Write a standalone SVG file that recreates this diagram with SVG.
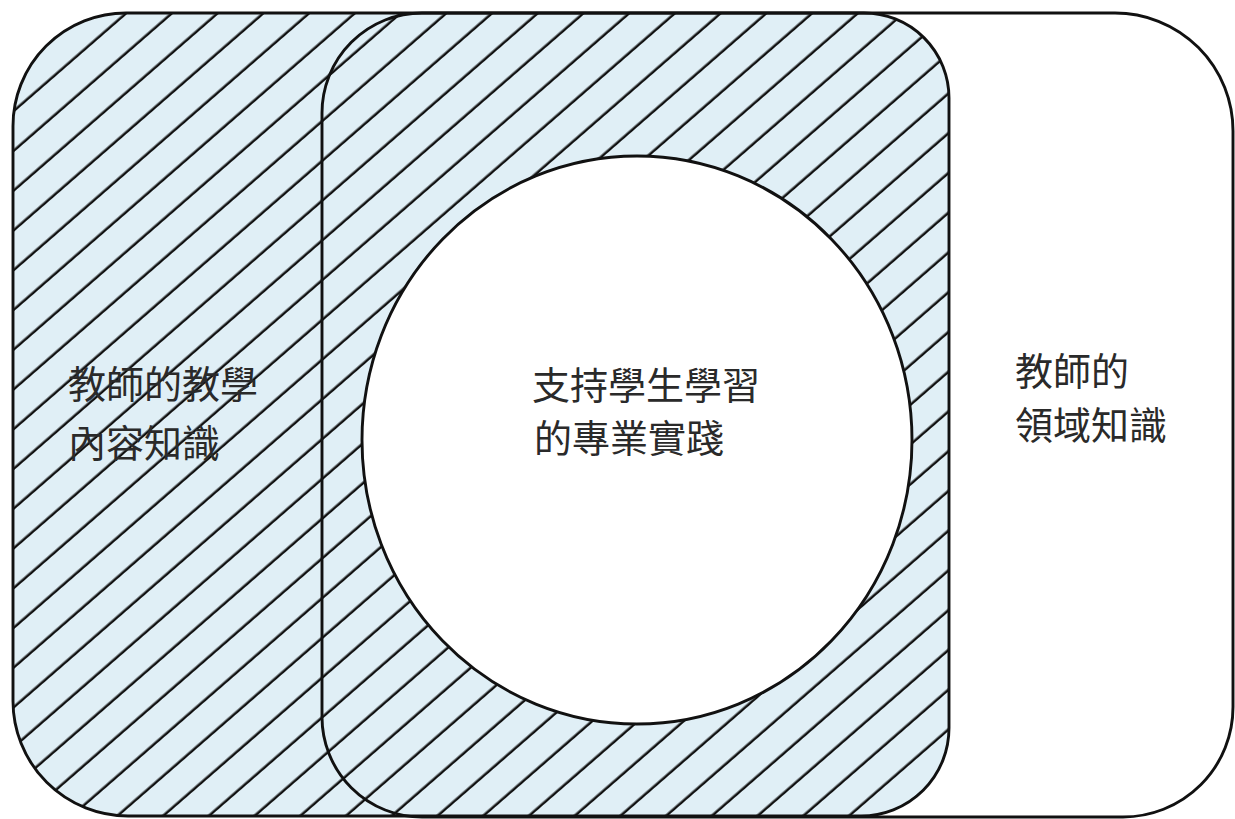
<svg xmlns="http://www.w3.org/2000/svg" width="1235" height="819" viewBox="0 0 1235 819">
  <defs>
    <pattern id="hatch" patternUnits="userSpaceOnUse" width="60" height="30" patternTransform="rotate(-41)">
      <line x1="-5" y1="2.8" x2="65" y2="2.8" stroke="#111111" stroke-width="2.6"/>
    </pattern>
    <style>
      .outline { fill: none; stroke: #111111; stroke-width: 2.9; }
      .label { font-family: "Noto Sans CJK TC", "Noto Sans CJK SC", sans-serif; font-size: 38px; font-weight: 400; fill: #2a2a2a; }
    </style>
  </defs>
  <rect width="1235" height="819" fill="#ffffff"/>
  <g id="content-knowledge-area">
    <path id="pck-shape" d="M 13 126 A 113 113 0 0 1 126 13 L 864 13 A 85 85 0 0 1 949 98 L 949 728 A 88 88 0 0 1 861 816 L 128 816 A 115 115 0 0 1 13 701 Z" fill="#e0eff6"/>
    <path d="M 13 126 A 113 113 0 0 1 126 13 L 864 13 A 85 85 0 0 1 949 98 L 949 728 A 88 88 0 0 1 861 816 L 128 816 A 115 115 0 0 1 13 701 Z" fill="url(#hatch)"/>
  </g>
  <g id="node-pck">
    <path class="outline" d="M 13 126 A 113 113 0 0 1 126 13 L 864 13 A 85 85 0 0 1 949 98 L 949 728 A 88 88 0 0 1 861 816 L 128 816 A 115 115 0 0 1 13 701 Z"/>
    <text class="label" x="68" y="398">教師的教學</text>
    <text class="label" x="68" y="457">內容知識</text>
  </g>
  <g id="node-domain">
    <path class="outline" d="M 322 113 A 100 100 0 0 1 422 13 L 1115 13 A 118 118 0 0 1 1233 131 L 1233 707 A 110 110 0 0 1 1123 817 L 422 817 A 100 100 0 0 1 322 717 Z"/>
    <text class="label" x="1015" y="385">教師的</text>
    <text class="label" x="1015" y="439">領域知識</text>
  </g>
  <g id="node-practice">
    <ellipse cx="637" cy="440" rx="275" ry="284" fill="#ffffff" stroke="#111111" stroke-width="2.9"/>
    <text class="label" x="532" y="399">支持學生學習</text>
    <text class="label" x="534" y="452">的專業實踐</text>
  </g>
  <g id="connectors"></g>
</svg>
